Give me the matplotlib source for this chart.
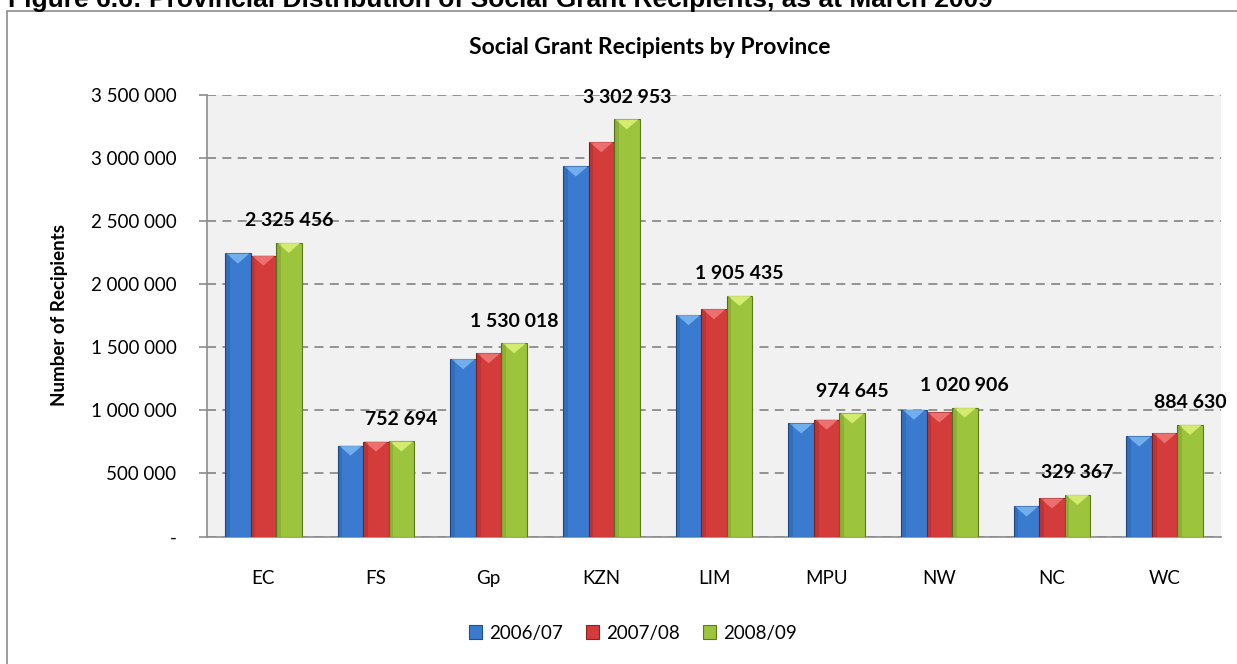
import matplotlib
matplotlib.use("Agg")
import matplotlib.pyplot as plt
import numpy as np
from matplotlib.patches import Rectangle, Polygon
from matplotlib.ticker import FuncFormatter, MultipleLocator

provinces = ["EC", "FS", "Gp", "KZN", "LIM", "MPU", "NW", "NC", "WC"]
series_names = ["2006/07", "2007/08", "2008/09"]
v_2006 = [2241000, 720000, 1404000, 2930000, 1753000, 895000, 1005000, 238000, 792000]
v_2007 = [2225000, 752000, 1451000, 3122000, 1800000, 926000, 982000, 302000, 818000]
v_2008 = [2325456, 752694, 1530018, 3302953, 1905435, 974645, 1020906, 329367, 884630]

face = ["#3A7BD0", "#D43B3B", "#9CC43C"]
edge = ["#1F4F8F", "#8E2020", "#5E7A1E"]
light = ["#7DB8F2", "#F27A7A", "#DDF27A"]

W, H = 1237, 664
fig = plt.figure(figsize=(W / 100, H / 100), dpi=100)
plt.rcParams["font.family"] = ["Lato", "DejaVu Sans"]

# outer chart border
fig.patches.append(Rectangle((7 / W, -0.05), 1.2, 1 - 11 / H + 0.05, transform=fig.transFigure,
                             fill=False, edgecolor="#8C8C8C", linewidth=1.2, clip_on=False))

fig.text(8 / W, 1 - 7 / H,
         "Figure 6.6: Provincial Distribution of Social Grant Recipients, as at March 2009",
         fontsize=19, fontweight="bold", family=["Liberation Sans", "DejaVu Sans"],
         ha="left", va="baseline")

fig.text(650 / W, 1 - 47 / H, "Social Grant Recipients by Province",
         fontsize=16.5, fontweight="bold", ha="center", va="center")

ax = fig.add_axes([207 / W, 1 - 536.5 / H, (1221 - 207) / W, (536.5 - 94.5) / H])
ax.set_facecolor("#F1F1F1")

x = np.arange(len(provinces))
w = 0.226
all_series = [v_2006, v_2007, v_2008]
bev = 80000
for k, vals in enumerate(all_series):
    xs = x + (k - 1) * w
    bars = ax.bar(xs, vals, width=w, color=face[k], edgecolor=edge[k], linewidth=0.8,
                  label=series_names[k], zorder=3)
    for b in bars:
        x0 = b.get_x(); x1 = x0 + b.get_width(); top = b.get_height()
        xc = (x0 + x1) / 2
        ax.add_patch(Polygon([(x0 + 0.01, top), (x1 - 0.01, top), (xc, top - bev)],
                             closed=True, facecolor=light[k], edgecolor="none",
                             alpha=0.85, zorder=4))
        ax.add_patch(Rectangle((x0, 0), b.get_width() * 0.18, top - 5000,
                               facecolor="black", alpha=0.10, edgecolor="none", zorder=4))

for i, v in enumerate(v_2008):
    ax.annotate(f"{v:,.0f}".replace(",", " "), xy=(x[i] + w, v), xytext=(0, 16),
                textcoords="offset points", ha="center", va="center",
                fontsize=14, fontweight="bold", zorder=6)

ax.set_xlim(-0.5, len(provinces) - 0.5)
ax.set_ylim(0, 3500000)
ax.yaxis.set_major_locator(MultipleLocator(500000))
ax.yaxis.set_major_formatter(FuncFormatter(
    lambda v, p: "-" if v == 0 else f"{v:,.0f}".replace(",", " ")))
ax.grid(axis="y", color="#8C8C8C", linestyle=(0, (5, 3.5)), linewidth=1.3, zorder=1)
ax.set_axisbelow(True)
ax.set_xticks(x)
ax.set_xticklabels(provinces)
ax.tick_params(axis="x", length=0, pad=24, labelsize=13.5)
ax.tick_params(axis="y", length=6, width=1.2, color="#8C8C8C", pad=16, labelsize=13.5)
for s in ["top", "right"]:
    ax.spines[s].set_visible(False)
for s in ["left", "bottom"]:
    ax.spines[s].set_color("#8C8C8C")
    ax.spines[s].set_linewidth(1.2)

fig.text(60 / W, 1 - 315 / H, "Number of Recipients", rotation=90, fontsize=13.5,
         fontweight="bold", ha="center", va="center")

ax.legend(loc="center", bbox_to_anchor=(633 / W, 1 - 633 / H), bbox_transform=fig.transFigure,
          ncol=3, frameon=False, fontsize=13.5, handlelength=0.7, handleheight=0.7,
          handletextpad=0.4, columnspacing=1.2)

fig.savefig("out.png", dpi=100)
